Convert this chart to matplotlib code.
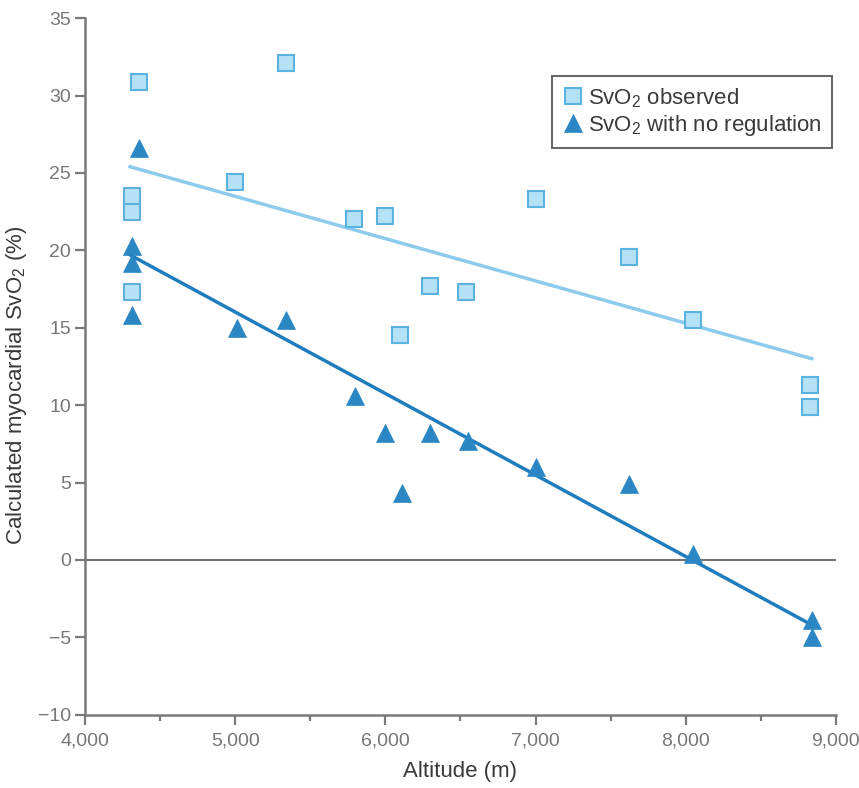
import numpy as np
import matplotlib
matplotlib.use("Agg")
import matplotlib.pyplot as plt
from matplotlib.ticker import MultipleLocator, FuncFormatter

# ---- data ----
obs_alt = [4312, 4312, 4312, 4359, 5336, 5000, 5790, 6000, 6300, 6100, 6540, 7000, 7620, 8050, 8830, 8830]
obs_svo2 = [23.5, 22.5, 17.3, 30.9, 32.1, 24.4, 22.0, 22.2, 17.7, 14.5, 17.3, 23.3, 19.6, 15.5, 11.3, 9.9]

noreg_alt = [4359, 4312, 4312, 4312, 5010, 5340, 5800, 6000, 6300, 6110, 6550, 7000, 7620, 8050, 8840, 8840]
noreg_svo2 = [26.6, 20.3, 19.2, 15.8, 15.0, 15.5, 10.6, 8.2, 8.2, 4.3, 7.7, 6.0, 4.9, 0.4, -3.9, -5.0]

fit_alt = [4300, 8840]
obs_fit = [25.4, 13.0]
noreg_fit = [19.7, -4.2]

xticks = [4000, 5000, 6000, 7000, 8000, 9000]
yticks = [-10, -5, 0, 5, 10, 15, 20, 25, 30, 35]

plt.rcParams['font.family'] = ['Liberation Sans', 'DejaVu Sans']
plt.rcParams['mathtext.fontset'] = 'custom'
plt.rcParams['mathtext.rm'] = 'Liberation Sans'
plt.rcParams['mathtext.it'] = 'Liberation Sans'

grey = '#7a7a7a'
light_face = '#b5e1f6'
light_edge = '#5ab2df'
light_line = '#8ccbec'
dark = '#2b86c4'
dark_line = '#1f7dbd'

fig = plt.figure(figsize=(8.59, 7.88), dpi=100)
ax = fig.add_axes([0.099, 0.093, 0.874, 0.884])

ax.axhline(0, color='#555555', lw=1.2, zorder=1)
ax.plot(fit_alt, obs_fit, color=light_line, lw=2.5, zorder=2)
ax.plot(fit_alt, noreg_fit, color=dark_line, lw=2.5, zorder=2)

ax.plot(obs_alt, obs_svo2, 's', ms=11, mfc=light_face, mec=light_edge, mew=1.5,
        ls='none', zorder=3, label='SvO$_2$ observed')
ax.plot(noreg_alt, noreg_svo2, '^', ms=13, mfc=dark, mec=dark, mew=0.5,
        ls='none', zorder=3, label='SvO$_2$ with no regulation')

ax.set_xlim(4000, 9000)
ax.set_ylim(-10, 35)
ax.set_xticks(xticks)
ax.set_yticks(yticks)
ax.xaxis.set_minor_locator(MultipleLocator(500))
ax.xaxis.set_major_formatter(FuncFormatter(lambda v, p: f"{int(v):,}"))
ax.yaxis.set_major_formatter(FuncFormatter(lambda v, p: f"{int(v)}".replace('-', '\u2212')))

for s in ['top', 'right']:
    ax.spines[s].set_visible(False)
for s in ['left', 'bottom']:
    ax.spines[s].set_color(grey)
    ax.spines[s].set_linewidth(1.8)

ax.tick_params(axis='both', which='major', colors=grey, labelcolor='#777777',
               labelsize=14, width=1.6, length=7, pad=3)
ax.tick_params(axis='x', which='minor', colors=grey, width=1.6, length=4)
ax.tick_params(axis='x', which='major', pad=6)

ax.set_xlabel('Altitude (m)', fontsize=16, color='#3a3a3a', labelpad=8)
ax.set_ylabel('Calculated myocardial SvO$_2$ (%)', fontsize=16, color='#3a3a3a')
ax.yaxis.set_label_coords(-0.074, 0.473)

leg = ax.legend(loc='upper right', bbox_to_anchor=(0.995, 0.917), fontsize=16,
                frameon=True, fancybox=False, handletextpad=0.2, handlelength=1.0,
                borderpad=0.45, labelspacing=0.15, borderaxespad=0)
leg.get_frame().set_edgecolor('#444444')
leg.get_frame().set_linewidth(1.5)
for t in leg.get_texts():
    t.set_color('#3a3a3a')

fig.savefig('out.png', dpi=100)
